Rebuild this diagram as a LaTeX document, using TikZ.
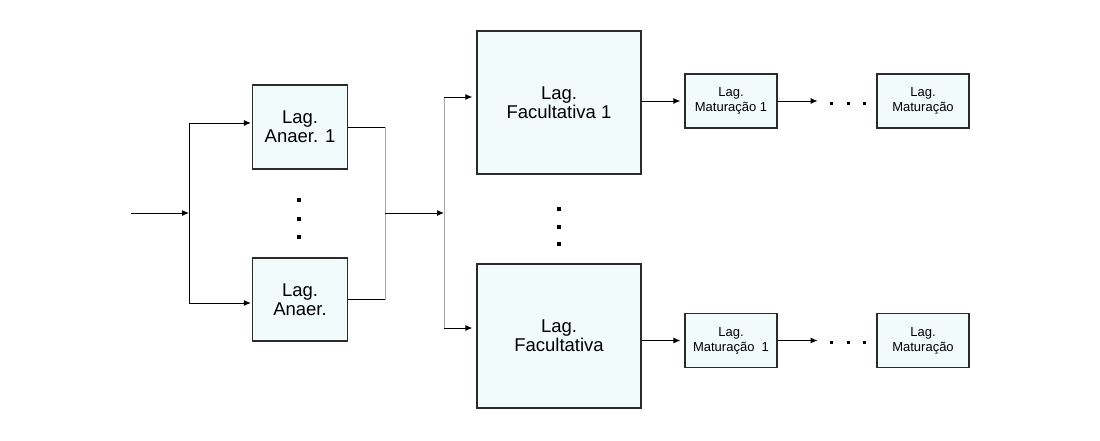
\documentclass[tikz,border=0pt]{standalone}
\usepackage{fontspec}
\setmainfont{Liberation Sans}
\usetikzlibrary{arrows.meta}
\usetikzlibrary{calc}
\definecolor{lagoa}{HTML}{F1FBFB}
\definecolor{borda}{HTML}{2B2B2B}

\begin{document}
\begin{tikzpicture}[x=1pt, y=-1pt,
            lag/.style = {draw=borda, line width=1.2pt, fill=lagoa, align=center, inner sep=0pt},
            big/.style = {lag, font=\fontsize{18.5}{19}\selectfont},
            small/.style = {lag, font=\fontsize{13}{15}\selectfont, minimum width=92pt, minimum height=54pt},
            arr/.style = {black, line width=1pt, -{Latex[length=7pt,width=6pt]}},
            lin/.style = {black, line width=1pt},
            gline/.style = {gray!70, line width=1pt}]
            \useasboundingbox (0,0) rectangle (1100,440);
            \node[big, minimum width=95pt, minimum height=84pt] (an1) at (300,127) {Lag.\\Anaer. 1};
            \node[big, minimum width=95pt, minimum height=83pt] (ann) at (300,299.5) {Lag.\\Anaer.};
            \node[big, minimum width=164pt, minimum height=143pt] (fa1) at (559,102.5) {Lag.\\Facultativa 1};
            \node[big, minimum width=164pt, minimum height=144pt] (fan) at (559,336) {Lag.\\Facultativa};
            \node[small] (ma1) at (731,101) {Lag.\\Maturação 1};
            \node[small] (mat1) at (923,101) {Lag.\\Maturação};
            \node[small] (man) at (731,340.5) {Lag.\\Maturação~~1};
            \node[small] (matn) at (923,340.5) {Lag.\\Maturação};
            \coordinate (in) at (131,213);
            \coordinate (s1) at (189,123);
            \coordinate (s2) at (189,303);
            \coordinate (j1) at (385,213);
            \coordinate (j2) at (444,213);
            \coordinate (t1) at (444,97);
            \coordinate (t2) at (444,328);
            \coordinate (e1) at ([xshift=40pt]ma1.east);
            \coordinate (e2) at ([xshift=40pt]man.east);
            \draw[arr] (in) -- (in -| s1);
            \draw[lin] (s1) -- (s2);
            \draw[arr, shorten >=1pt] (s1) -- (s1 -| an1.west);
            \draw[arr, shorten >=1pt] (s2) -- (s2 -| ann.west);
            \draw[lin] (an1.east) -- (an1.east -| j1);
            \draw[lin] (ann.east) -- (ann.east -| j1);
            \draw[gline] (an1.east -| j1) -- (ann.east -| j1);
            \draw[arr] (j1) -- (j2);
            \draw[gline] (t1) -- (t2);
            \draw[arr, shorten >=4pt] (t1) -- (t1 -| fa1.west);
            \draw[arr, shorten >=4pt] (t2) -- (t2 -| fan.west);
            \draw[arr, shorten >=4pt] (fa1.east |- ma1) -- (ma1.west);
            \draw[arr, shorten >=4pt] (fan.east |- man) -- (man.west);
            \draw[arr] (ma1.east) -- (e1);
            \draw[arr] (man.east) -- (e2);
            \foreach \y in {198,217,235} {
                \fill (297,\y) rectangle +(4,4);
            }
            \foreach \y in {207,225,242} {
                \fill (557,\y) rectangle +(4,4);
            }
            \foreach \x in {830,847,863} {
                \fill (\x,101.5) rectangle +(3,3);
                \fill (\x,340.5) rectangle +(3,3);
            }
        \end{tikzpicture}
\end{document}
